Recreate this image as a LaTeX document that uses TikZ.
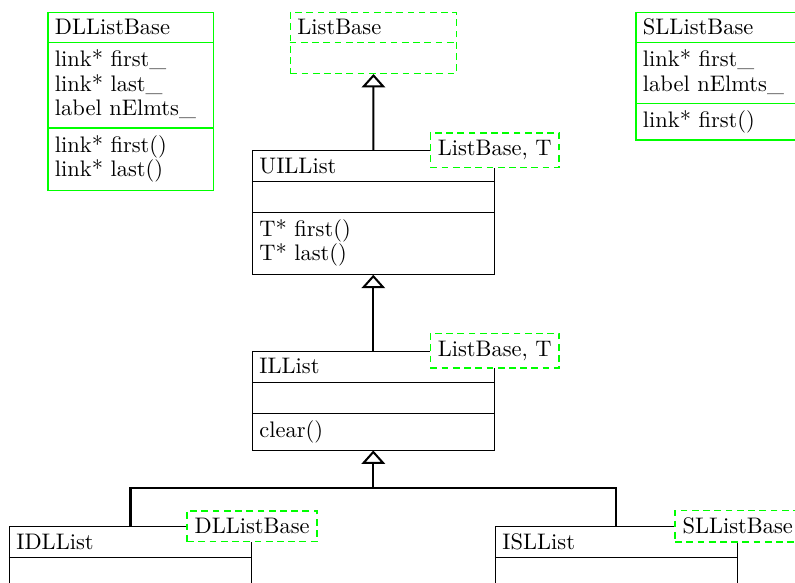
\documentclass[tikz,border=0pt]{standalone}
\usetikzlibrary{arrows.meta,fit}
\definecolor{umlgreen}{RGB}{0,255,0}
\begin{document}
\begin{tikzpicture}[x=0.445pt,y=-0.445pt,
  cls/.style={draw=black, inner sep=0pt, line width=0.4pt},
  gcls/.style={draw=umlgreen, inner sep=0pt, line width=0.6pt},
  gline/.style={draw=umlgreen, line width=0.6pt},
  dcls/.style={draw=umlgreen, dash pattern=on 3pt off 2pt, inner sep=0pt, line width=0.6pt},
  txt/.style={anchor=base west, inner sep=0pt},
  tmpl/.style={draw=umlgreen, dash pattern=on 3pt off 2pt, fill=white, inner sep=3.33pt, line width=0.6pt},
  inh/.style={line width=0.9pt, -{Triangle[open, width=10.5pt, length=6pt]}},
  junct/.style={line width=0.9pt}
]
\useasboundingbox (0,0) rectangle (795,583);
\clip (0,0) rectangle (795,583);

% ---- DLListBase (green, solid)
\node[gcls, fit={(48,12.5)(213.7,190.7)}] (dlb) {};
\draw[gline] (dlb.west |- 0,42.7) -- (dlb.east |- 0,42.7);
\draw[gline] (dlb.west |- 0,128) -- (dlb.east |- 0,128);
\node[txt] (dlb1) at (54.5,34.3) {DLListBase};
\node[txt] (dlb2) at (54.5,67) {link* first\_};
\node[txt] (dlb3) at (54.5,91) {link* last\_};
\node[txt] (dlb4) at (54.5,115) {label nElmts\_};
\node[txt] (dlb5) at (54.5,152.3) {link* first()};
\node[txt] (dlb6) at (54.5,176.3) {link* last()};

% ---- ListBase (green, dashed)
\node[dcls, fit={(290.3,12.5)(456.7,73.3)}] (lb) {};
\draw[gline, dash pattern=on 3pt off 2pt] (lb.west |- 0,42.7) -- (lb.east |- 0,42.7);
\node[txt] (lb1) at (297,34.3) {ListBase};

% ---- SLListBase (green, solid)
\node[gcls, fit={(636,12.5)(802,140)}] (slb) {};
\draw[gline] (slb.west |- 0,42.7) -- (slb.east |- 0,42.7);
\draw[gline] (slb.west |- 0,103.3) -- (slb.east |- 0,103.3);
\node[txt] (slb1) at (642.5,34.3) {SLListBase};
\node[txt] (slb2) at (642.5,67) {link* first\_};
\node[txt] (slb3) at (642.5,91) {label nElmts\_};
\node[txt] (slb4) at (642.5,127.3) {link* first()};

% ---- UILList
\node[cls, fit={(252.3,150.7)(494.3,274.3)}] (uil) {};
\draw (uil.west |- 0,181.7) -- (uil.east |- 0,181.7);
\draw (uil.west |- 0,212) -- (uil.east |- 0,212);
\node[txt] (uil1) at (259,173.3) {UILList};
\node[txt] (uil2) at (259,236.3) {T* first()};
\node[txt] (uil3) at (259,260.3) {T* last()};
\node[tmpl] (uilT) at (uil.north east) {ListBase, T};

% ---- ILList
\node[cls, fit={(252.3,351)(494.3,450)}] (ill) {};
\draw (ill.west |- 0,382.3) -- (ill.east |- 0,382.3);
\draw (ill.west |- 0,413.3) -- (ill.east |- 0,413.3);
\node[txt] (ill1) at (259,373.6) {ILList};
\node[txt] (ill2) at (259,437.3) {clear()};
\node[tmpl] (illT) at (ill.north east) {ListBase, T};

% ---- IDLList
\node[cls, fit={(9.3,526.7)(251.7,660)}] (idl) {};
\draw (idl.west |- 0,557.7) -- (idl.east |- 0,557.7);
\node[txt] (idl1) at (16,549.3) {IDLList};
\node[tmpl] (idlT) at (idl.north east) {DLListBase};

% ---- ISLList
\node[cls, fit={(495.3,526.7)(737.3,660)}] (isl) {};
\draw (isl.west |- 0,557.7) -- (isl.east |- 0,557.7);
\node[txt] (isl1) at (502,549.3) {ISLList};
\node[tmpl] (islT) at (isl.north east) {SLListBase};

% ---- inheritance connectors
\draw[inh] (uil.north) -- (lb.south);
\draw[inh] (ill.north) -- (uil.south);
\coordinate (j) at (ill.south |- 0,488.3);
\draw[inh] (idl.north) |- (j) -- (ill.south);
\draw[junct] (isl.north) |- (j);
\end{tikzpicture}
\end{document}
